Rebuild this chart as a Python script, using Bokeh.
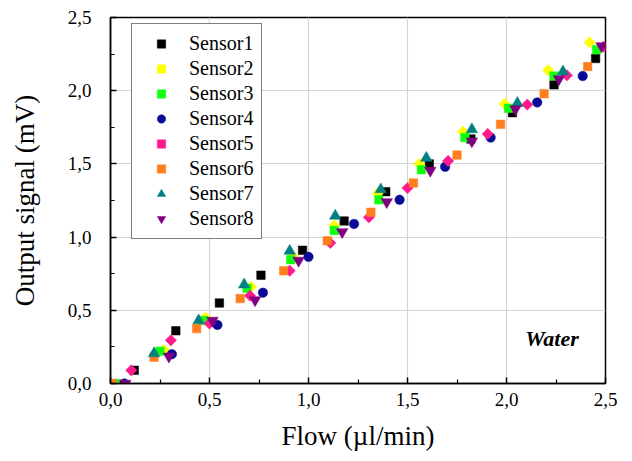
import math
from bokeh.plotting import figure
from bokeh.models import FixedTicker, CustomJSTickFormatter, Legend, LegendItem, Label, Range1d
from bokeh.embed import file_html
from bokeh.resources import INLINE

# ---- data ----
s1_x = [0.12, 0.33, 0.55, 0.76, 0.97, 1.18, 1.39, 1.61, 1.82, 2.03, 2.24, 2.45]
s1_y = [0.09, 0.36, 0.55, 0.74, 0.91, 1.11, 1.31, 1.50, 1.67, 1.85, 2.04, 2.22]
s2_x = [0.27, 0.48, 0.71, 0.92, 1.13, 1.35, 1.56, 1.78, 1.99, 2.21, 2.42]
s2_y = [0.23, 0.45, 0.66, 0.87, 1.08, 1.30, 1.50, 1.72, 1.91, 2.14, 2.33]
s3_x = [0.03, 0.25, 0.47, 0.69, 0.91, 1.13, 1.355, 1.57, 1.79, 2.01, 2.24, 2.455]
s3_y = [0.0, 0.22, 0.43, 0.65, 0.845, 1.045, 1.255, 1.46, 1.68, 1.88, 2.10, 2.28]
s4_x = [0.07, 0.31, 0.54, 0.77, 1.0, 1.23, 1.46, 1.69, 1.92, 2.155, 2.385]
s4_y = [0.0, 0.20, 0.40, 0.62, 0.865, 1.09, 1.255, 1.48, 1.68, 1.92, 2.10]
s5_x = [0.105, 0.305, 0.50, 0.705, 0.905, 1.11, 1.305, 1.50, 1.705, 1.905, 2.105, 2.305, 2.49]
s5_y = [0.09, 0.295, 0.41, 0.60, 0.77, 0.96, 1.135, 1.335, 1.52, 1.705, 1.905, 2.105, 2.30]
s6_x = [0.01, 0.22, 0.435, 0.655, 0.875, 1.095, 1.315, 1.53, 1.75, 1.97, 2.19, 2.41]
s6_y = [0.0, 0.18, 0.375, 0.58, 0.77, 0.975, 1.17, 1.37, 1.56, 1.77, 1.98, 2.165]
s7_x = [0.22, 0.445, 0.675, 0.905, 1.135, 1.365, 1.595, 1.825, 2.055, 2.285]
s7_y = [0.205, 0.43, 0.675, 0.905, 1.145, 1.325, 1.54, 1.735, 1.915, 2.13]
s8_x = [0.075, 0.295, 0.515, 0.73, 0.95, 1.17, 1.395, 1.615, 1.825, 2.045, 2.265, 2.48]
s8_y = [0.0, 0.185, 0.43, 0.57, 0.84, 1.035, 1.24, 1.455, 1.655, 1.875, 2.08, 2.305]

names = ["Sensor1", "Sensor2", "Sensor3", "Sensor4", "Sensor5", "Sensor6", "Sensor7", "Sensor8"]
xs = [s1_x, s2_x, s3_x, s4_x, s5_x, s6_x, s7_x, s8_x]
ys = [s1_y, s2_y, s3_y, s4_y, s5_y, s6_y, s7_y, s8_y]
colors = ["#000000", "#ffff00", "#11ff11", "#0a0a96", "#ff1a8c", "#ff7f1e", "#008080", "#800080"]
markers = ["square", "square", "square", "circle", "square", "square", "triangle", "inverted_triangle"]
sizes = [8.5, 8, 8.5, 9.5, 8, 8.5, 11.5, 11.5]
angles = [0, math.pi / 4, 0, 0, math.pi / 4, 0, 0, 0]

major = [0.0, 0.5, 1.0, 1.5, 2.0, 2.5]
minor = [0.25, 0.75, 1.25, 1.75, 2.25]

SERIF = "Liberation Serif"

p = figure(width=620, height=453, output_backend="svg", toolbar_location=None,
           x_range=Range1d(0, 2.5), y_range=Range1d(0, 2.5),
           min_border_left=110, min_border_right=15, min_border_top=17, min_border_bottom=70)
p.background_fill_color = "white"
p.border_fill_color = "white"
p.outline_line_color = "black"
p.outline_line_width = 1.5

items = []
for n, x, y, c, m, s, a in zip(names, xs, ys, colors, markers, sizes, angles):
    r = p.scatter(x, y, marker=m, size=s, angle=a, fill_color=c, line_color=c, line_width=0.5)
    items.append(LegendItem(label=n, renderers=[r]))

legend = Legend(items=items, location=(21, 144), padding=8, spacing=2,
                glyph_width=42, glyph_height=21, label_height=21, label_standoff=7,
                border_line_color="black", border_line_width=1, background_fill_color="white",
                background_fill_alpha=1.0, margin=0)
legend.label_text_font = SERIF
legend.label_text_font_size = "20px"
legend.label_text_color = "black"
p.add_layout(legend, "center")

fmt = CustomJSTickFormatter(code="return tick.toFixed(1).replace('.', ',');")
for ax in (p.xaxis[0], p.yaxis[0]):
    ax.ticker = FixedTicker(ticks=major, minor_ticks=minor)
    ax.formatter = fmt
    ax.major_tick_in = 6
    ax.major_tick_out = 0
    ax.minor_tick_in = 4
    ax.minor_tick_out = 0
    ax.axis_line_width = 1.5
    ax.major_tick_line_width = 1.5
    ax.minor_tick_line_width = 1.2
    ax.major_label_text_font = SERIF
    ax.major_label_text_font_size = "19px"
    ax.major_label_text_color = "black"
    ax.axis_label_text_font = SERIF
    ax.axis_label_text_font_size = "27px"
    ax.axis_label_text_font_style = "normal"
    ax.axis_label_text_color = "black"

p.xaxis.axis_label = "Flow (\u00b5l/min)"
p.yaxis.axis_label = "Output signal (mV)"
p.xaxis.major_label_standoff = 9
p.xaxis.axis_label_standoff = 12
p.yaxis.major_label_standoff = 19
p.yaxis.axis_label_standoff = 25

p.xgrid.ticker = FixedTicker(ticks=major)
p.ygrid.ticker = FixedTicker(ticks=major)
p.xgrid.grid_line_color = "#d4d4d4"
p.ygrid.grid_line_color = "#d4d4d4"
p.xgrid.grid_line_width = 1.2
p.ygrid.grid_line_width = 1.2

water = Label(x=2.23, y=0.31, text="Water", text_align="center", text_baseline="middle")
water.text_font = SERIF
water.text_font_size = "22px"
water.text_font_style = "bold italic"
water.text_color = "black"
p.add_layout(water)

open("out.html", "w").write(file_html(p, INLINE))
